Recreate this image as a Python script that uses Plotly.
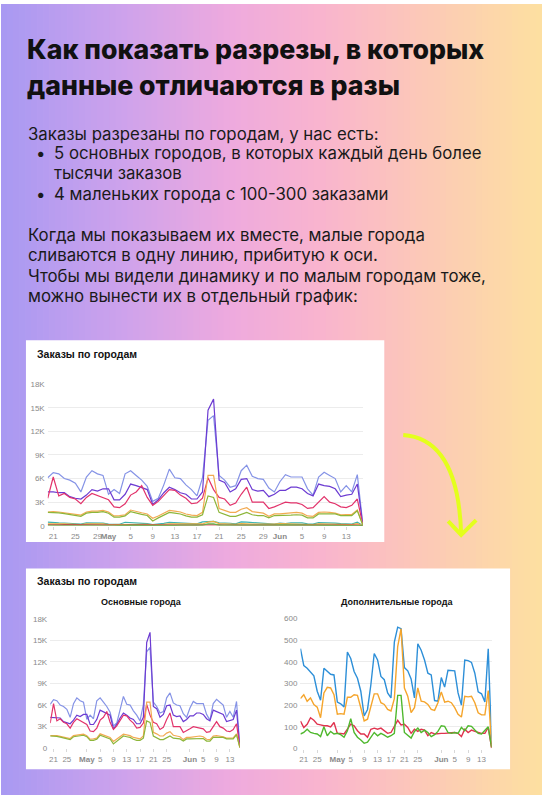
import numpy as np
import pandas as pd
import plotly.graph_objects as go

W, H = 542, 800

# daily orders, 20 Apr - 16 Jun
dates = pd.date_range("2023-04-20", periods=58, freq="D")

# big cities, thousands of orders
big_lavender = [6.1, 6.75, 6.6, 6.0, 5.8, 5.4, 4.3, 6.2, 7.0, 6.6,
                6.4, 4.0, 4.6, 4.1, 6.6, 7.0, 6.4, 5.8, 5.0, 3.1,
                3.5, 5.2, 7.2, 6.1, 6.0, 5.2, 4.6, 3.8, 6.1, 13.4,
                14.0, 6.4, 5.8, 4.9, 5.1, 7.0, 7.7, 6.3, 6.0, 5.9,
                4.8, 4.3, 5.6, 6.5, 6.2, 6.2, 6.2, 4.7, 3.9, 6.2,
                6.8, 6.4, 6.0, 4.3, 5.1, 4.3, 6.5, 0.2]
big_purple = [4.3, 4.3, 4.2, 4.2, 3.7, 3.5, 3.4, 3.9, 4.6, 4.4,
              4.7, 4.7, 3.3, 3.3, 4.0, 5.3, 5.1, 4.9, 4.6, 2.7,
              3.3, 4.2, 4.9, 4.6, 4.2, 4.0, 3.4, 3.4, 4.3, 14.7,
              16.1, 5.8, 5.5, 4.3, 4.7, 5.9, 6.0, 4.6, 4.4, 4.5,
              3.7, 4.0, 4.5, 4.5, 4.9, 4.9, 4.7, 4.1, 3.8, 5.3,
              5.1, 5.0, 4.7, 3.7, 3.9, 4.0, 5.3, 0.2]
big_red = [3.5, 6.2, 3.8, 4.1, 3.6, 3.4, 2.8, 3.6, 4.1, 3.8,
           3.6, 3.3, 2.4, 2.3, 2.8, 3.9, 4.3, 5.1, 3.6, 2.6,
           3.1, 3.8, 4.6, 4.5, 3.9, 3.5, 2.8, 2.9, 3.5, 6.1,
           4.6, 3.6, 3.4, 2.6, 2.9, 4.0, 4.9, 3.0, 3.0, 3.0,
           2.2, 2.4, 2.7, 3.0, 2.9, 2.9, 2.7, 2.2, 2.3, 3.0,
           3.7, 3.0, 2.8, 2.4, 2.3, 2.6, 3.4, 0.1]
big_orange = [1.75, 1.8, 1.75, 1.65, 1.55, 1.45, 1.35, 1.75, 1.85, 1.85,
              1.95, 1.75, 1.25, 1.3, 1.4, 2.0, 1.8, 1.65, 1.5, 0.95,
              1.25, 1.6, 1.95, 1.85, 1.75, 1.5, 1.35, 1.3, 1.7, 6.4,
              6.4, 2.2, 2.0, 1.7, 1.7, 2.1, 2.3, 1.8, 1.7, 1.6,
              1.2, 1.5, 1.5, 1.6, 1.65, 1.7, 1.6, 1.25, 1.2, 1.7,
              1.75, 1.7, 1.6, 1.4, 1.4, 1.45, 2.0, 0.1]
big_green = [1.7, 1.7, 1.65, 1.55, 1.45, 1.35, 1.2, 1.6, 1.7, 1.7,
             1.8, 1.6, 1.1, 1.1, 1.25, 1.8, 1.6, 1.45, 1.3, 0.6,
             1.0, 1.4, 1.7, 1.6, 1.5, 1.25, 1.1, 1.1, 1.4, 3.8,
             3.6, 1.7, 1.4, 1.2, 1.2, 1.5, 1.7, 1.4, 1.3, 1.3,
             1.0, 1.3, 1.3, 1.3, 1.35, 1.4, 1.35, 1.0, 1.0, 1.5,
             1.5, 1.55, 1.5, 1.3, 1.3, 1.3, 1.9, 0.1]

# small cities, orders
small_blue = [460, 382, 370, 352, 335, 264, 223, 370, 355, 342,
              339, 214, 206, 192, 445, 415, 355, 324, 264, 150,
              180, 294, 438, 408, 332, 317, 256, 233, 490, 559,
              552, 373, 358, 321, 233, 483, 453, 408, 347, 339,
              221, 218, 327, 283, 361, 358, 358, 256, 200, 408,
              405, 397, 347, 261, 252, 215, 460, 20]
small_orange = [230, 248, 218, 233, 203, 191, 142, 256, 282, 279,
                248, 158, 161, 158, 236, 236, 248, 245, 188, 127,
                135, 195, 252, 252, 211, 203, 180, 173, 230, 470,
                552, 279, 241, 165, 188, 279, 218, 215, 203, 180,
                176, 211, 261, 214, 218, 211, 188, 158, 145, 241,
                238, 241, 211, 165, 155, 155, 267, 6]
small_red = [127, 97, 112, 142, 130, 112, 109, 105, 105, 100,
             120, 70, 70, 67, 89, 112, 105, 82, 67, 67,
             52, 89, 94, 89, 94, 82, 70, 74, 100, 130,
             109, 112, 97, 70, 89, 79, 89, 85, 59, 74,
             67, 70, 70, 70, 70, 73, 74, 70, 55, 89,
             74, 85, 79, 74, 70, 70, 97, 2]
small_green = [67, 74, 89, 74, 70, 67, 55, 100, 59, 79,
               67, 70, 64, 52, 82, 138, 74, 52, 39, 24,
               29, 52, 74, 59, 70, 62, 52, 59, 70, 245,
               245, 74, 59, 48, 79, 94, 74, 85, 74, 55,
               64, 79, 105, 102, 74, 70, 74, 70, 97, 82,
               105, 102, 85, 70, 67, 82, 100, 5]

tick_dates = ["2023-04-21", "2023-04-25", "2023-04-29", "2023-05-01", "2023-05-05",
              "2023-05-09", "2023-05-13", "2023-05-17", "2023-05-21", "2023-05-25",
              "2023-05-29", "2023-06-01", "2023-06-05", "2023-06-09", "2023-06-13"]
tick_text = ["21", "25", "29", "<b>May</b>", "5", "9", "13", "17", "21", "25",
             "29", "<b>Jun</b>", "5", "9", "13"]
big_y_ticks = [0, 3, 6, 9, 12, 15, 18]
big_y_text = ["0", "3K", "6K", "9K", "12K", "15K", "18K"]
small_y_ticks = [0, 100, 200, 300, 400, 500, 600]

title_lines = ["Как показать разрезы, в которых", "данные отличаются в разы"]
body_lines = [
    ("Заказы разрезаны по городам, у нас есть:", False),
    ("5 основных городов, в которых каждый день более", True),
    ("тысячи заказов", None),
    ("4 маленьких города с 100-300 заказами", True),
    ("Когда мы показываем их вместе, малые города", False),
    ("сливаются в одну линию, прибитую к оси.", False),
    ("Чтобы мы видели динамику и по малым городам тоже,", False),
    ("можно вынести их в отдельный график:", False),
]
body_y = [131, 151, 171, 192, 234, 254, 275, 295]

BIG_COLORS = ["#8593e6", "#6c3bd2", "#e2336b", "#f2aa52", "#8db63a"]
SMALL_COLORS = ["#2d8fd8", "#f5a52c", "#e0334f", "#4fb82e"]
TOP_SMALL_COLORS = ["#3db3b0", "#f0b040", "#d8344a", "#5cb84a"]


def px(x):
    return x / W


def py(y):
    return 1 - y / H


def gradient_shapes():
    stops = [(0, (168, 153, 242)), (120, (205, 162, 236)), (230, (238, 170, 222)),
             (320, (249, 180, 206)), (420, (252, 200, 184)), (542, (253, 224, 160))]
    shapes = []
    n = 90
    for k in range(n):
        x0, x1 = W * k / n, W * (k + 1) / n
        xc = (x0 + x1) / 2
        for (a, ca), (b, cb) in zip(stops[:-1], stops[1:]):
            if a <= xc <= b:
                t = (xc - a) / (b - a)
                c = [round(ca[j] + (cb[j] - ca[j]) * t) for j in range(3)]
                break
        shapes.append(dict(type="rect", xref="paper", yref="paper", layer="below",
                           x0=px(x0), x1=px(x1 + 0.8), y0=0, y1=1, line_width=0,
                           fillcolor=f"rgb({c[0]},{c[1]},{c[2]})"))
    return shapes


fig = go.Figure()

big = [big_lavender, big_purple, big_red, big_orange, big_green]
small = [small_blue, small_orange, small_red, small_green]

# top chart: everything together
for vals, col in zip(small, TOP_SMALL_COLORS):
    fig.add_trace(go.Scatter(x=dates, y=np.array(vals) / 1000, mode="lines",
                             line=dict(color=col, width=1.2), xaxis="x", yaxis="y"))
for vals, col in zip(big, BIG_COLORS):
    fig.add_trace(go.Scatter(x=dates, y=vals, mode="lines",
                             line=dict(color=col, width=1.2), xaxis="x", yaxis="y"))

# bottom left: big cities
for vals, col in zip(big, BIG_COLORS):
    fig.add_trace(go.Scatter(x=dates, y=vals, mode="lines",
                             line=dict(color=col, width=1.2), xaxis="x2", yaxis="y2"))

# bottom right: small cities
for vals, col in zip(small, SMALL_COLORS):
    fig.add_trace(go.Scatter(x=dates, y=vals, mode="lines",
                             line=dict(color=col, width=1.4), xaxis="x3", yaxis="y3"))

tick_font = dict(family="Liberation Sans", size=8, color="#8a8a8a")
bottom_ticks = [(d, t) for d, t in zip(tick_dates, tick_text) if t != "29"]

xcommon = dict(type="date", range=[dates[0], dates[-1]], showgrid=False, zeroline=False,
               showline=False, ticks="outside", ticklen=3, tickcolor="#d8d8d8",
               tickangle=0, tickfont=tick_font, fixedrange=True)
ycommon = dict(showgrid=True, gridcolor="#ececec", gridwidth=1, zeroline=False,
               showline=False, ticks="", tickfont=tick_font, ticklabelstandoff=2)

fig.update_layout(
    width=W, height=H,
    margin=dict(l=0, r=0, t=0, b=0),
    paper_bgcolor="white",
    plot_bgcolor="rgba(0,0,0,0)",
    showlegend=False,
    xaxis=dict(xcommon, domain=[px(46.8), px(362.5)], anchor="y",
               tickvals=tick_dates, ticktext=tick_text),
    yaxis=dict(ycommon, domain=[py(527.7), py(384.5)], anchor="x", range=[0, 18],
               tickvals=big_y_ticks, ticktext=big_y_text),
    xaxis2=dict(xcommon, domain=[px(49.3), px(239.3)], anchor="y2",
                tickvals=[d for d, _ in bottom_ticks], ticktext=[t for _, t in bottom_ticks]),
    yaxis2=dict(ycommon, domain=[py(752.7), py(621.7)], anchor="x2", range=[0, 18],
                tickvals=big_y_ticks, ticktext=big_y_text),
    xaxis3=dict(xcommon, domain=[px(300), px(491.5)], anchor="y3",
                tickvals=[d for d, _ in bottom_ticks], ticktext=[t for _, t in bottom_ticks]),
    yaxis3=dict(ycommon, domain=[py(753), py(621.3)], anchor="x3", range=[0, 600],
                tickvals=small_y_ticks),
)

shapes = gradient_shapes()
# white cards
shapes.append(dict(type="rect", xref="paper", yref="paper", layer="below",
                   x0=px(25), x1=px(384), y0=py(544), y1=py(340),
                   fillcolor="white", line_width=0))
shapes.append(dict(type="rect", xref="paper", yref="paper", layer="below",
                   x0=px(25), x1=px(510), y0=py(774), y1=py(571),
                   fillcolor="white", line_width=0))
# yellow arrow
arrow = "#e4ff1c"
shapes.append(dict(type="path", xref="paper", yref="paper",
                   path=f"M {px(403)},{py(436)} Q {px(458)},{py(440)} {px(461)},{py(536)}",
                   line=dict(color=arrow, width=4)))
shapes.append(dict(type="path", xref="paper", yref="paper",
                   path=f"M {px(448)},{py(523)} L {px(461)},{py(537)} L {px(476)},{py(522)}",
                   line=dict(color=arrow, width=4)))
fig.update_layout(shapes=shapes)

ann = []
for text, y in zip(title_lines, [46, 82]):
    ann.append(dict(text=text, x=px(24), y=py(y), xref="paper", yref="paper",
                    xanchor="left", yanchor="middle", showarrow=False,
                    font=dict(family="Inter", size=26.7, weight=800, color="#111111")))
for (text, bullet), y in zip(body_lines, body_y):
    x = 25 if bullet is False else 51
    ann.append(dict(text=text, x=px(x), y=py(y), xref="paper", yref="paper",
                    xanchor="left", yanchor="middle", showarrow=False,
                    font=dict(family="Inter", size=16.8, color="#1a1a1a")))
    if bullet:
        ann.append(dict(text="•", x=px(33), y=py(y), xref="paper", yref="paper",
                        xanchor="left", yanchor="middle", showarrow=False,
                        font=dict(family="Inter", size=16.8, color="#1a1a1a")))
for y in [354, 584]:
    ann.append(dict(text="<b>Заказы по городам</b>", x=px(34), y=py(y), xref="paper",
                    yref="paper", xanchor="left", yanchor="middle", showarrow=False,
                    font=dict(family="Liberation Sans", size=10.5, color="#111111")))
for text, x in [("Основные города", 141), ("Дополнительные города", 396.5)]:
    ann.append(dict(text=f"<b>{text}</b>", x=px(x), y=py(605), xref="paper", yref="paper",
                    xanchor="center", yanchor="middle", showarrow=False,
                    font=dict(family="Liberation Sans", size=9, color="#111111")))
fig.update_layout(annotations=ann)

# drop the page's default body margin so the figure fills the window
fig.write_html("out.html", config={"displayModeBar": False},
               post_script="document.body.style.margin='0';")
